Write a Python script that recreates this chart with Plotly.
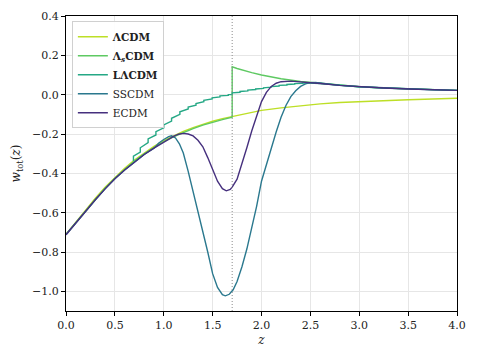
import plotly.graph_objects as go

# --- data ---
# LambdaCDM
lcdm_z = [0, 0.1, 0.2, 0.3, 0.4, 0.5, 0.6, 0.7, 0.8, 0.9, 1.0, 1.1, 1.2, 1.3, 1.4, 1.5, 1.6, 1.7,
          1.8, 1.9, 2.0, 2.2, 2.4, 2.6, 2.8, 3.0, 3.25, 3.5, 3.75, 4.0]
lcdm_w = [-0.71, -0.648, -0.586, -0.527, -0.471, -0.420, -0.374, -0.333, -0.296, -0.263, -0.234,
          -0.209, -0.187, -0.168, -0.150, -0.135, -0.122, -0.111, -0.100, -0.090, -0.080, -0.067,
          -0.056, -0.047, -0.040, -0.035, -0.030, -0.026, -0.022, -0.018]

# Lambda_s CDM (sign switch at z = 1.7)
lscdm_z = [0, 0.1, 0.2, 0.3, 0.4, 0.5, 0.6, 0.7, 0.8, 0.9, 1.0, 1.1, 1.2, 1.3, 1.4, 1.5, 1.6, 1.7,
           1.7, 1.75, 1.8, 1.9, 2.0, 2.2, 2.4, 2.6, 2.8, 3.0, 3.25, 3.5, 3.75, 4.0]
lscdm_w = [-0.71, -0.650, -0.590, -0.532, -0.476, -0.425, -0.379, -0.338, -0.301, -0.268, -0.239,
           -0.214, -0.192, -0.173, -0.155, -0.140, -0.127, -0.115,
           0.142, 0.133, 0.125, 0.112, 0.100, 0.081, 0.067, 0.057, 0.047, 0.040, 0.034, 0.029, 0.025, 0.022]

# L-Lambda CDM sawtooth: jump positions, value just before and just after each jump
llcdm_jump_z = [0.69, 0.76, 0.84, 0.92, 1.00, 1.08, 1.165, 1.25, 1.33, 1.41, 1.495, 1.575, 1.66,
                1.70, 1.78, 1.86, 1.94, 2.02, 2.10, 2.18, 2.26, 2.34, 2.42]
llcdm_lo = [-0.337, -0.292, -0.244, -0.205, -0.169, -0.134, -0.100, -0.073, -0.053, -0.036, -0.022,
            -0.011, -0.004, 0.001, 0.012, 0.019, 0.026, 0.032, 0.038, 0.044, 0.049, 0.054, 0.058]
llcdm_hi = [-0.312, -0.270, -0.225, -0.188, -0.154, -0.120, -0.087, -0.063, -0.045, -0.029, -0.016,
            -0.006, 0.000, 0.009, 0.016, 0.023, 0.029, 0.035, 0.041, 0.047, 0.052, 0.056, 0.060]
tail_z = [2.6, 2.8, 3.0, 3.25, 3.5, 3.75, 4.0]
tail_w = [0.057, 0.047, 0.040, 0.034, 0.029, 0.025, 0.022]

# SSCDM
sscdm_z = [0, 0.1, 0.2, 0.3, 0.4, 0.5, 0.6, 0.7, 0.8, 0.9, 0.95, 1.0, 1.05, 1.08, 1.12, 1.16, 1.2,
           1.25, 1.3, 1.35, 1.4, 1.45, 1.5, 1.55, 1.6, 1.63, 1.67, 1.71, 1.75, 1.8, 1.85, 1.9, 1.95,
           2.0, 2.05, 2.1, 2.15, 2.2, 2.25, 2.3, 2.35, 2.4, 2.45, 2.5, 2.55, 2.6, 2.8, 3.0, 3.25,
           3.5, 3.75, 4.0]
sscdm_w = [-0.712, -0.652, -0.592, -0.534, -0.479, -0.428, -0.383, -0.342, -0.304, -0.272, -0.246,
           -0.228, -0.213, -0.209, -0.220, -0.250, -0.297, -0.390, -0.490, -0.595, -0.695, -0.800,
           -0.910, -0.980, -1.017, -1.023, -1.015, -0.992, -0.950, -0.875, -0.785, -0.680, -0.568,
           -0.440, -0.355, -0.270, -0.190, -0.115, -0.055, -0.010, 0.020, 0.042, 0.055, 0.061,
           0.062, 0.059, 0.047, 0.040, 0.034, 0.029, 0.025, 0.022]

# ECDM
ecdm_z = [0, 0.1, 0.2, 0.3, 0.4, 0.5, 0.6, 0.7, 0.8, 0.9, 1.0, 1.1, 1.15, 1.2, 1.25, 1.3, 1.35,
          1.4, 1.45, 1.5, 1.55, 1.6, 1.64, 1.68, 1.7, 1.75, 1.8, 1.85, 1.9, 1.95, 2.0, 2.05, 2.1,
          2.15, 2.2, 2.3, 2.4, 2.5, 2.6, 2.8, 3.0, 3.25, 3.5, 3.75, 4.0]
ecdm_w = [-0.712, -0.652, -0.592, -0.534, -0.479, -0.428, -0.383, -0.342, -0.304, -0.272, -0.240,
          -0.212, -0.201, -0.197, -0.200, -0.210, -0.232, -0.265, -0.320, -0.385, -0.440, -0.478,
          -0.489, -0.482, -0.470, -0.430, -0.355, -0.270, -0.185, -0.105, -0.035, 0.012, 0.042,
          0.058, 0.066, 0.069, 0.066, 0.062, 0.057, 0.047, 0.040, 0.034, 0.029, 0.025, 0.022]

z_switch = 1.7

# sawtooth corner points: jump up at each z, then rise linearly to the next jump
ll_x, ll_y = [], []
for z, lo, hi in zip(llcdm_jump_z, llcdm_lo, llcdm_hi):
    ll_x += [z, z]
    ll_y += [lo, hi]
ll_x += tail_z
ll_y += tail_w

series = [
    ("<b>ΛCDM</b>", lcdm_z, lcdm_w, "#bddf26"),
    ("<b>Λ<sub><i>s</i></sub>CDM</b>", lscdm_z, lscdm_w, "#5ec962"),
    ("<b>LΛCDM</b>", ll_x, ll_y, "#25a885"),
    ("SSCDM", sscdm_z, sscdm_w, "#2a788e"),
    ("ECDM", ecdm_z, ecdm_w, "#46307e"),
]

fig = go.Figure()
for name, x, y, c in series:
    fig.add_trace(go.Scatter(x=x, y=y, mode="lines", name=name,
                             line=dict(color=c, width=1.4)))

fig.add_vline(x=z_switch, line=dict(color="#8c8c8c", width=1, dash="1px,2px"))

axis_common = dict(showline=True, linecolor="black", linewidth=1.2, mirror=True,
                   ticks="outside", ticklen=4, tickcolor="black", automargin=False,
                   showgrid=True, gridcolor="#e6e6e6", gridwidth=1, zeroline=False,
                   tickfont=dict(family="DejaVu Serif", size=11, color="#222"))

# page body has a default 8px margin, so the figure is shrunk by that amount
fig.update_layout(
    width=470, height=351,
    margin=dict(l=58, r=21, t=8, b=48),
    paper_bgcolor="white", plot_bgcolor="white",
    font=dict(family="DejaVu Serif", color="#222"),
    xaxis=dict(range=[0, 4], dtick=0.5, tickformat=".1f",
               title=dict(text="<i>z</i>", font=dict(size=12), standoff=4), **axis_common),
    yaxis=dict(range=[-1.1, 0.4], dtick=0.2, tickformat=".1f",
               title=dict(text="<i>w</i><sub>tot</sub>(<i>z</i>)", font=dict(size=12), standoff=8),
               **axis_common),
    legend=dict(x=0.015, y=0.982, xanchor="left", yanchor="top",
                bgcolor="rgba(255,255,255,0.9)", bordercolor="#d0d0d0", borderwidth=1,
                font=dict(size=10.5, color="#222"), itemwidth=30, tracegroupgap=0),
    showlegend=True,
)

fig.write_html("out.html")
